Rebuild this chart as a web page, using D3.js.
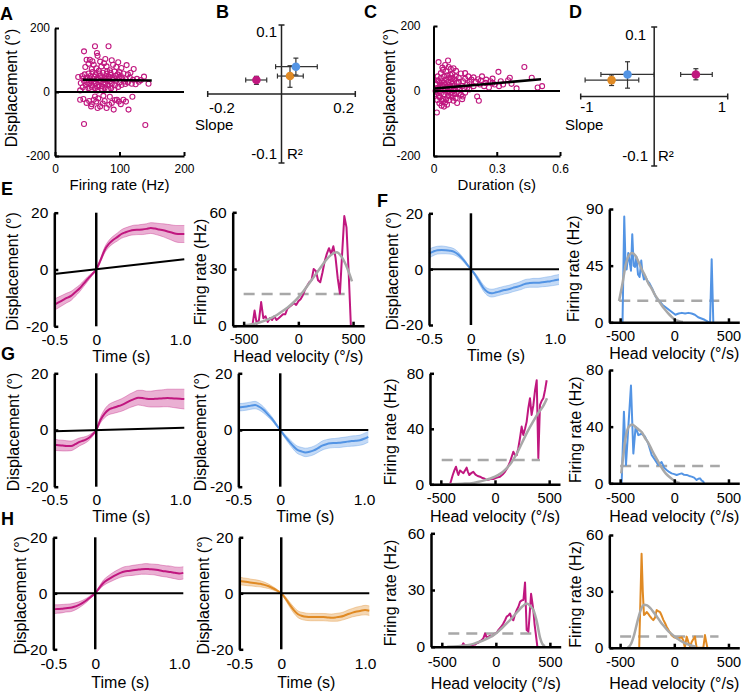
<!DOCTYPE html>
<html><head><meta charset="utf-8">
<script src="https://cdn.jsdelivr.net/npm/d3@7"></script>
<style>body{margin:0;background:#fff}svg{display:block}</style>
</head><body><svg id="c" width="746" height="695"></svg>
<script>
// ---------------- DATA ----------------
const MAG="#C0177F", BLUE="#5394E4", ORANGE="#E08A24", GREY="#A8A8A8";

// Panel A: [firing rate (Hz), displacement (deg)]
const scatterA=[[45,127],[62,143],[83,143],[65,122],[66,113],[49,101],[54,101],[58,96],[70,95],[76,90],[88,99],[98,93],[111,84],[122,72],[78,103],[90,85],[95,78],[103,75],[80,80],[72,80],[60,85],[52,88],[47,78],[57,72],[64,74],[68,66],[85,68],[92,64],[100,62],[106,58],[113,55],[117,60],[74,60],[80,57],[86,54],[58,62],[52,58],[46,55],[42,50],[36,47],[44,42],[50,45],[55,50],[61,48],[66,44],[71,50],[77,46],[83,48],[89,45],[94,50],[99,46],[104,42],[110,40],[116,45],[121,38],[127,41],[133,37],[138,48],[145,26],[119,26],[109,25],[100,30],[95,35],[90,38],[85,33],[80,36],[75,30],[70,34],[65,38],[60,32],[55,35],[50,30],[45,34],[40,28],[48,22],[53,25],[58,20],[63,26],[68,22],[73,18],[78,24],[83,20],[88,26],[93,21],[98,16],[103,22],[108,33],[113,30],[57,15],[62,12],[67,16],[72,10],[77,13],[82,9],[87,12],[92,8],[66,5],[39,5],[47,8],[52,12],[43,15],[86,60],[81,65],[69,58],[63,55],[97,55],[102,50],[59,40],[54,42],[74,40],[79,41],[84,42],[39,-24],[44,-22],[49,-34],[53,-28],[57,-38],[60,-24],[64,-30],[67,-20],[70,-45],[74,-36],[77,-28],[80,-50],[84,-40],[88,-34],[91,-55],[93,-25],[96,-24],[99,-30],[102,-38],[106,-24],[110,-30],[114,-55],[85,-15],[75,-12],[62,-14],[45,-100],[140,-103],[120,-15],[130,32],[125,24],[56,-45],[66,-50]];
const fitA=[43,38.5,150,36];
// Panel C: [duration (s), displacement (deg)]
const scatterC=[[0.024,89],[0.069,94],[0.072,74],[0.06,60],[0.045,65],[0.035,55],[0.02,45],[0.05,45],[0.08,50],[0.09,40],[0.107,62],[0.13,54],[0.12,40],[0.1,35],[0.085,30],[0.07,28],[0.06,35],[0.04,30],[0.03,25],[0.015,20],[0.02,10],[0.03,5],[0.045,15],[0.055,20],[0.065,12],[0.075,18],[0.09,22],[0.1,15],[0.11,25],[0.12,28],[0.14,30],[0.15,38],[0.16,20],[0.171,28],[0.18,35],[0.2,28],[0.212,36],[0.225,32],[0.247,25],[0.263,11],[0.27,30],[0.29,20],[0.308,59],[0.311,15],[0.319,30],[0.354,33],[0.362,41],[0.394,8],[0.431,74],[0.466,41],[0.494,11],[0.515,15],[0.016,-66],[0.064,-42],[0.112,-37],[0.136,-25],[0.139,-17],[0.215,-30],[0.207,-17],[0.03,-20],[0.04,-30],[0.05,-10],[0.06,-25],[0.07,-15],[0.08,-5],[0.09,-20],[0.1,-10],[0.02,-5],[0.025,-15],[0.035,-8],[0.045,-25],[0.055,-35],[0.065,-5],[0.075,-28],[0.085,-12],[0.095,-30],[0.105,-22],[0.12,-8],[0.13,-12],[0.15,-5],[0.16,10],[0.17,5],[0.19,15],[0.22,20],[0.24,15],[0.25,35],[0.28,25],[0.33,20],[0.37,22],[0.01,0],[0.015,8],[0.025,30],[0.035,40],[0.045,3],[0.055,8],[0.065,48],[0.075,40],[0.085,8],[0.095,5],[0.105,45],[0.115,10],[0.125,5],[0.135,15],[0.145,8],[0.04,18],[0.05,26],[0.06,2],[0.07,-2],[0.08,12],[0.09,52],[0.1,2],[0.11,-3],[0.03,12],[0.02,33],[0.012,-10],[0.018,-28],[0.028,-38],[0.038,-45],[0.05,-48],[0.042,72],[0.055,80],[0.082,68],[0.095,70],[0.15,55],[0.165,45],[0.19,42],[0.23,45],[0.28,38]];
const fitC=[0.005,8,0.51,36];

// Panels B and D: order magenta, blue, orange
const groupColors=[MAG,BLUE,ORANGE];
const bSlope=[-0.068,0.039,0.023], bSlopeLo=[-0.097,-0.016,-0.011], bSlopeHi=[-0.040,0.097,0.059];
const bR2=[0.0203,0.0396,0.026], bR2Lo=[0.014,0.0275,0.0097], bR2Hi=[0.0256,0.052,0.041];
const dSlope=[0.567,-0.363,-0.58], dSlopeLo=[0.36,-0.725,-0.94], dSlopeHi=[0.79,0,-0.21];
const dR2=[0.0317,0.0317,0.0236], dR2Lo=[0.024,0.012,0.0158], dR2Hi=[0.040,0.050,0.031];

// Displacement time courses
const timePts=[-0.5,-0.45,-0.4,-0.35,-0.3,-0.25,-0.2,-0.15,-0.1,-0.05,0,0.05,0.1,0.15,0.2,0.25,0.3,0.35,0.4,0.45,0.5,0.55,0.6,0.65,0.7,0.75,0.8,0.85,0.9,0.95,1.0,1.05];
const timeTicks=[-0.5,0,1.0], timeTickLabels=["-0.5","0","1.0"];
const dispTicks=[-20,0,20];
const eMean=[-12.4,-11.6,-10.8,-10.0,-9.3,-8.0,-6.7,-5.0,-3.3,-1.7,0,3.2,6.8,9.0,10.4,11.4,12.5,13.1,13.6,13.9,14.0,14.1,14.3,14.6,14.4,14.1,13.8,13.4,13.0,12.6,12.5,12.5];
const eSem=[2.0,1.9,1.8,1.7,1.6,1.4,1.2,1.0,0.8,0.5,0.2,0.6,1.0,1.2,1.3,1.4,1.5,1.6,1.6,1.7,1.7,1.8,1.8,1.9,2.0,2.1,2.3,2.5,2.7,2.9,3.0,3.0];
const eFit=[-0.5,-1.6,1.05,3.6];
const fMean=[5.6,6.3,6.8,6.9,6.8,6.6,6.2,5.2,3.7,1.8,0,-2.0,-4.4,-6.8,-8.2,-8.6,-8.3,-7.9,-7.5,-7.2,-6.7,-6.3,-5.8,-5.2,-5.0,-4.9,-4.9,-4.7,-4.5,-4.3,-4.0,-3.7];
const fSem=[1.6,1.5,1.4,1.4,1.3,1.2,1.1,0.9,0.7,0.5,0.2,0.6,0.9,1.1,1.3,1.4,1.4,1.4,1.4,1.4,1.4,1.4,1.5,1.5,1.5,1.6,1.6,1.6,1.7,1.7,1.8,1.8];
const fFit=[-0.5,0,1.05,0];
const g1Mean=[-5.2,-5.4,-5.5,-5.6,-5.6,-5.0,-4.2,-3.7,-3.0,-1.8,0,3.5,5.8,7.2,7.8,8.3,8.8,9.5,10.3,10.9,11.4,11.3,11.0,10.9,11.0,11.1,11.2,11.3,11.2,11.1,11.0,10.9];
const g1Sem=[2.0,1.9,1.9,1.8,1.7,1.6,1.4,1.2,1.0,0.7,0.3,1.0,1.5,1.8,2.0,2.1,2.2,2.3,2.4,2.5,2.6,2.7,2.7,2.8,2.9,3.0,3.0,3.1,3.2,3.3,3.4,3.5];
const g1Fit=[-0.5,-0.4,1.05,0.8];
const g2Mean=[8.0,8.1,8.3,8.6,8.8,8.2,7.1,5.6,4.0,2.0,0,-2.0,-3.8,-5.5,-6.9,-7.5,-7.9,-7.7,-7.2,-6.4,-5.5,-5.0,-4.7,-4.6,-4.5,-4.3,-4.1,-3.9,-3.8,-3.6,-3.1,-2.4];
const g2Sem=[1.3,1.3,1.3,1.3,1.3,1.2,1.1,0.9,0.7,0.5,0.2,0.6,0.9,1.1,1.3,1.4,1.5,1.5,1.5,1.5,1.6,1.6,1.6,1.6,1.7,1.7,1.7,1.8,1.8,1.8,1.9,1.9];
const g2Fit=[-0.5,0,1.05,0];
const h1Mean=[-5.7,-5.6,-5.5,-5.3,-5.2,-4.8,-4.2,-3.4,-2.4,-1.2,0,2.0,3.8,4.9,5.8,6.6,7.3,7.8,8.0,8.2,8.4,8.6,8.7,8.6,8.5,8.3,8.0,7.8,7.6,7.3,7.1,7.3];
const h1Sem=[1.6,1.5,1.5,1.4,1.4,1.3,1.1,0.9,0.7,0.5,0.2,0.6,1.0,1.2,1.4,1.5,1.6,1.7,1.7,1.8,1.8,1.8,1.9,1.9,1.9,2.0,2.0,2.0,2.1,2.1,2.2,2.2];
const h1Fit=[-0.5,0,1.05,0];
const h2Mean=[4.4,4.2,4.0,3.8,3.6,3.4,3.0,2.5,1.8,1.0,0,-1.8,-4.0,-6.0,-7.5,-8.1,-8.4,-8.5,-8.5,-8.5,-8.5,-8.6,-8.7,-8.6,-8.4,-8.0,-7.4,-6.9,-6.5,-6.2,-6.0,-6.2];
const h2Sem=[1.4,1.3,1.3,1.2,1.2,1.1,1.0,0.8,0.6,0.4,0.2,0.6,0.9,1.1,1.2,1.3,1.3,1.3,1.3,1.3,1.3,1.3,1.3,1.4,1.4,1.4,1.5,1.5,1.6,1.6,1.7,1.7];
const h2Fit=[-0.5,0,1.05,0];

// Firing-rate tuning curves (head velocity deg/s -> Hz)
const velTicks=[-500,0,500], velTickLabels=["-500","0","500"];
const eVel=[-420,-400,-380,-360,-340,-320,-300,-280,-260,-240,-220,-200,-180,-160,-140,-120,-100,-80,-60,-40,-20,0,20,40,60,80,100,120,140,160,180,200,220,240,260,280,300,320,340,360,380,400,420,440,460,480];
const eFR=[0,8,1,3,12.5,4,5,2,4,3,5,3,4,5,6,6,9,10,11,12,11,13,14,16,19,21,23,24,30,29,24,23,28,34,38,41,38,42,36,25,17,38,58,52,28,0];
const eFitV=[-500,-450,-400,-350,-300,-250,-200,-150,-100,-50,0,50,100,150,200,250,300,350,400,450,490];
const eFitF=[0.3,0.5,1,1.8,2.8,4,5.5,7.5,9.5,12,15,18.5,22.5,26.5,30.5,34.5,37.5,38.8,36,30,23.5];
const eDash=[-500,430,16.8];
const fVel=[-478,-462,-450,-440,-425,-412,-400,-388,-375,-362,-350,-335,-320,-305,-295,-280,-265,-250,-230,-200,-170,-140,-110,-80,-50,-20,10,40,70,100,130,160,190,220,250,280,310,330,345,360];
const fFR=[0,84,45,42,55,48,41,70,45,44,52,38,36,49,40,34,36,33,31,26,20,17,14,12,10,8,6,7,7.5,7,7.5,7,6,4,3,2,0.5,0,50,0];
const fFitV=[-510,-480,-450,-420,-390,-360,-330,-300,-270,-240,-210,-180,-150,-120,-90,-60,-30,0,30,60,80];
const fFitF=[17,30,45,53,55,53,48,42,37,31,27,22,18,14,10.5,7.5,4.8,2.5,1.2,0.5,0.3];
const fDash=[-508,415,17.2];
const g3Vel=[-415,-400,-390,-375,-360,-348,-338,-323,-308,-292,-277,-262,-250,-237,-220,-200,-180,-160,-138,-115,-95,-77,-55,-35,-15,5,25,46,70,92,115,138,155,169,185,200,215,230,246,261,277,292,308,323,338,354,370,385,400,415,430,446,462,477];
const g3FR=[0,4,6.7,10,12.7,9,6.7,10,9,8,10,12,9,6.7,8,9,7,6,5.5,4.5,4,3.1,3.5,4,3.8,4.5,5,5.5,7,9,12,16,20,23.5,21,21,26,33,41.6,35.6,40,45,55,62,50,57,68,75,19,57,60,62,68,75];
const g3FitV=[-490,-400,-300,-200,-150,-100,-50,0,50,100,150,200,250,300,350,400,450,480];
const g3FitF=[0,0.1,0.4,1,1.8,2.8,4,5.5,7.7,11,15.5,22,30,38,45,51.5,57,62];
const g3Dash=[-492,415,17.5];
const g4Vel=[-486,-465,-446,-425,-400,-378,-357,-332,-302,-271,-240,-209,-178,-148,-117,-94,-71,-48,-25,0,22,45,68,91,114,137,160,183,206,222,237,252,268,274];
const g4FR=[0,50.6,13,39,69,21,40,34,35,33,28,20,16.5,13,15,11,9.4,8,7,6.5,5.9,6.5,7,6,5.9,5.2,4.7,4,2.4,3.2,3.5,2,1.2,0];
const g4FitV=[-490,-470,-450,-420,-390,-360,-330,-300,-270,-240,-210,-180,-150,-120,-90,-60,-30,0,30,50];
const g4FitF=[7,20,32,40,41.5,40,38,36,32,28.5,24,19.5,15.5,11.5,8,5.5,3.5,1.8,0.6,0.2];
const g4Dash=[-500,420,12.2];
const h3Vel=[-316,-301,-285,-270,-250,-230,-210,-190,-177,-160,-145,-131,-115,-100,-85,-69,-50,-35,-23,-5,10,23,40,55,69,85,100,115,131,146,162,177,193,208,224,240,255,270,285,301,314,326,336,347,358,369,384];
const h3FR=[0,1.8,0.5,0.9,0.5,0.3,1,1.2,1.8,2.2,3,3.5,4.5,7,5,5.3,5.8,5.5,6.2,7,7.5,8.8,10,11,12.3,14,15.9,16.5,17.6,15,14,17,19.4,21,23.8,24.5,24.7,34,8.8,8,18,28,24,19.4,12,7,0];
const h3FitV=[-450,-350,-250,-200,-150,-100,-50,0,50,100,150,200,250,285,320,350,380,410,430,455];
const h3FitF=[0,0.3,0.9,1.6,2.6,3.8,5.2,7,9.5,12.3,15.3,18.5,21.5,22.8,21.5,19,13,4.5,1.5,0.3];
const h3Dash=[-440,393,7];
const h4Vel=[-324,-313,-302,-291,-280,-268,-255,-240,-222,-208,-194,-178,-163,-148,-132,-116,-100,-85,-71,-50,-25,0,22,45,68,83,98,106,114,130,145,160,175,191,198,206,230,255,268,283,295,305];
const h4FR=[0,25,50,30,17.4,18,19,18,16.5,15.5,14.7,16,20,19.5,19,17,14.7,13,11.2,9,6.7,5.5,5,5.2,5.5,4,0,3,5.9,3,0.5,3,4.5,5.9,3,0,0,0,0,6.7,3,0];
const h4FitV=[-430,-400,-370,-340,-310,-280,-250,-220,-190,-160,-130,-100,-70,-40,-10,20,50,80,110,150,200];
const h4FitF=[0,2,7,14,20,22.8,22.5,21,18.8,16.5,14,11.8,9.8,8,6.5,5.2,4,3,2.2,1.3,0.5];
const h4Dash=[-500,408,5.9];

// ---------------- DRAWING ----------------
const FONT="'Liberation Sans', Arial, Helvetica, sans-serif";
const TICKFS=14.5, LABFS=16;
const svg=d3.select("#c").attr("font-family",FONT);

function styleAxis(g,fs,sw){
  g.attr("font-family",FONT).attr("font-size",fs);
  g.select(".domain").attr("stroke","#000").attr("stroke-width",sw||2);
  g.selectAll(".tick line").attr("stroke","#000").attr("stroke-width",sw||2);
  g.selectAll(".tick text").attr("fill","#000");
}
function text(x,y,s,o={}){
  return svg.append("text").attr("x",x).attr("y",y).text(s)
    .attr("font-size",o.size||15).attr("text-anchor",o.anchor||"middle")
    .attr("font-weight",o.weight||"normal").attr("fill","#000");
}
function vtext(x,y,s,size){
  svg.append("text").attr("transform",`translate(${x},${y}) rotate(-90)`)
    .attr("text-anchor","middle").attr("dy","0.35em").attr("font-size",size).text(s);
}

// ---- Scatter panels A, C
function scatterPanel(p){
  const x=d3.scaleLinear().domain(p.xdom).range([p.left,p.right]);
  const y=d3.scaleLinear().domain([-200,200]).range([p.bottom,p.top]);
  const g=svg.append("g");
  g.selectAll("circle").data(p.pts).join("circle")
    .attr("cx",d=>x(d[0])).attr("cy",d=>y(d[1])).attr("r",2.5)
    .attr("fill","none").attr("stroke",MAG).attr("stroke-width",1.1);
  g.append("line").attr("x1",x(p.xdom[0])).attr("x2",x(p.xdom[1])).attr("y1",y(0)).attr("y2",y(0))
    .attr("stroke","#000").attr("stroke-width",2);
  g.append("line").attr("x1",x(p.fit[0])).attr("y1",y(p.fit[1])).attr("x2",x(p.fit[2])).attr("y2",y(p.fit[3]))
    .attr("stroke","#000").attr("stroke-width",2.5);
  const ya=g.append("g").attr("transform",`translate(${p.left},0)`)
    .call(d3.axisLeft(y).tickValues([-200,0,200]).tickSize(-4).tickSizeOuter(0).tickPadding(p.ypad).tickFormat(d=>String(d)));
  styleAxis(ya,12);
  const xa=g.append("g").attr("transform",`translate(0,${p.bottom})`)
    .call(d3.axisBottom(x).tickValues(p.xticks).tickSize(-4).tickSizeOuter(0).tickPadding(8).tickFormat((d,i)=>p.xlabels[i]));
  styleAxis(xa,12);
  vtext(p.ylabX,88,"Displacement (°)",16);
  text((p.left+p.right)/2,190,p.xlabel,{size:15});
}
scatterPanel({left:55,right:184,top:28,bottom:156,xdom:[0,200],pts:scatterA,fit:fitA,xticks:[0,100,200],xlabels:["0","100","200"],ypad:5,ylabX:11,xlabel:"Firing rate (Hz)"});
scatterPanel({left:433.5,right:560,top:26,bottom:156,xdom:[0,0.6],pts:scatterC,fit:fitC,xticks:[0,0.3,0.6],xlabels:["0","0.3","0.6"],ypad:13,ylabX:389,xlabel:"Duration (s)"});

// ---- Cross panels B, D
function crossPanel(p){
  const x=d3.scaleLinear().domain([-p.xmax,p.xmax]).range([p.left,p.right]);
  const y=d3.scaleLinear().domain([-0.1,0.1]).range([p.bottom,p.top]);
  const g=svg.append("g");
  const ax="#222";
  g.append("line").attr("x1",x(-p.xmax)).attr("x2",x(p.xmax)).attr("y1",y(0)).attr("y2",y(0)).attr("stroke",ax).attr("stroke-width",1.5);
  g.append("line").attr("x1",x(0)).attr("x2",x(0)).attr("y1",y(0.1)).attr("y2",y(-0.1)).attr("stroke",ax).attr("stroke-width",1.5);
  [-p.xmax,p.xmax].forEach(v=>g.append("line").attr("x1",x(v)).attr("x2",x(v)).attr("y1",y(0)-3).attr("y2",y(0)+3).attr("stroke",ax).attr("stroke-width",1.5));
  [-0.1,0.1].forEach(v=>g.append("line").attr("x1",x(0)-3).attr("x2",x(0)+3).attr("y1",y(v)).attr("y2",y(v)).attr("stroke",ax).attr("stroke-width",1.5));
  p.order.forEach(i=>{
    const eg=g.append("g").attr("stroke","#333").attr("stroke-width",1.2);
    eg.append("line").attr("x1",x(p.lo[i])).attr("x2",x(p.hi[i])).attr("y1",y(p.r2[i])).attr("y2",y(p.r2[i]));
    [p.lo[i],p.hi[i]].forEach(v=>eg.append("line").attr("x1",x(v)).attr("x2",x(v)).attr("y1",y(p.r2[i])-2.5).attr("y2",y(p.r2[i])+2.5));
    eg.append("line").attr("x1",x(p.slope[i])).attr("x2",x(p.slope[i])).attr("y1",y(p.r2lo[i])).attr("y2",y(p.r2hi[i]));
    [p.r2lo[i],p.r2hi[i]].forEach(v=>eg.append("line").attr("y1",y(v)).attr("y2",y(v)).attr("x1",x(p.slope[i])-2.5).attr("x2",x(p.slope[i])+2.5));
    g.append("circle").attr("cx",x(p.slope[i])).attr("cy",y(p.r2[i])).attr("r",4.3).attr("fill",groupColors[i]);
  });
  p.labels.forEach(l=>text(l[0],l[1],l[2],{anchor:l[3],size:15}));
}
crossPanel({left:207.7,right:355.3,top:25,bottom:163,xmax:0.2,slope:bSlope,lo:bSlopeLo,hi:bSlopeHi,r2:bR2,r2lo:bR2Lo,r2hi:bR2Hi,order:[0,2,1],
  labels:[[277,37,"0.1","end"],[277,159,"-0.1","end"],[287,159,"R²","start"],[222,113,"-0.2","middle"],[354,113,"0.2","end"],[195,130,"Slope","start"]]});
crossPanel({left:580.7,right:727.7,top:27,bottom:166,xmax:1,slope:dSlope,lo:dSlopeLo,hi:dSlopeHi,r2:dR2,r2lo:dR2Lo,r2hi:dR2Hi,order:[0,2,1],
  labels:[[646,40,"0.1","end"],[648,161,"-0.1","end"],[658,161,"R²","start"],[587,112,"-1","middle"],[722,112,"1","middle"],[565,130,"Slope","start"]]});

// ---- Time-course panels
function timePanel(p){
  const x=d3.scaleLinear().domain([timePts[0],timePts[timePts.length-1]]).range([p.left,p.left+130]);
  const y=d3.scaleLinear().domain([-20,20]).range([p.bottom,p.top]);
  const data=timePts.map((t,i)=>({t,m:p.mean[i],s:p.sem[i]}));
  const g=svg.append("g");
  const cv=d3.curveMonotoneX;
  g.append("path").datum(data).attr("d",d3.area().x(d=>x(d.t)).y0(d=>y(d.m-d.s)).y1(d=>y(d.m+d.s)).curve(cv))
    .attr("fill",p.color).attr("fill-opacity",0.34);
  [-1,1].forEach(sg=>g.append("path").datum(data).attr("d",d3.line().x(d=>x(d.t)).y(d=>y(d.m+sg*d.s)).curve(cv))
    .attr("fill","none").attr("stroke",p.color).attr("stroke-opacity",0.35).attr("stroke-width",1));
  g.append("path").datum(data).attr("d",d3.line().x(d=>x(d.t)).y(d=>y(d.m)).curve(cv))
    .attr("fill","none").attr("stroke",p.color).attr("stroke-width",2);
  g.append("line").attr("x1",x(p.fit[0])).attr("y1",y(p.fit[1])).attr("x2",x(p.fit[2])).attr("y2",y(p.fit[3]))
    .attr("stroke","#000").attr("stroke-width",2);
  g.append("line").attr("x1",x(0)).attr("x2",x(0)).attr("y1",y(20)).attr("y2",y(-20)).attr("stroke","#000").attr("stroke-width",2.5);
  const ya=g.append("g").attr("transform",`translate(${p.left},0)`)
    .call(d3.axisLeft(y).tickValues(dispTicks).tickSize(-4).tickSizeOuter(0).tickPadding(6).tickFormat(d=>String(d)));
  styleAxis(ya,TICKFS+1,2.5);
  const xa=g.append("g").attr("transform",`translate(0,${p.bottom})`)
    .call(d3.axisBottom(x).tickValues(timeTicks).tickSize(0).tickPadding(p.xpad).tickFormat((d,i)=>timeTickLabels[i]));
  xa.select(".domain").remove();
  styleAxis(xa,TICKFS+1);
  vtext(p.ylabX,(p.top+p.bottom)/2+2,"Displacement (°)",LABFS);
  text(x(0.3),p.xlabY,"Time (s)",{size:LABFS});
}
timePanel({left:54.3,top:212.7,bottom:326.3,mean:eMean,sem:eSem,fit:eFit,color:MAG,ylabX:12,xpad:7.5,xlabY:362});
timePanel({left:429,top:213.3,bottom:325,mean:fMean,sem:fSem,fit:fFit,color:BLUE,ylabX:392,xpad:7.5,xlabY:361});
timePanel({left:54.3,top:373.3,bottom:486.7,mean:g1Mean,sem:g1Sem,fit:g1Fit,color:MAG,ylabX:13,xpad:7,xlabY:522});
timePanel({left:238.3,top:373.3,bottom:486.7,mean:g2Mean,sem:g2Sem,fit:g2Fit,color:BLUE,ylabX:200,xpad:7,xlabY:522});
timePanel({left:53.3,top:537.3,bottom:649.3,mean:h1Mean,sem:h1Sem,fit:h1Fit,color:MAG,ylabX:20,xpad:8.5,xlabY:688});
timePanel({left:239.3,top:537.3,bottom:649.3,mean:h2Mean,sem:h2Sem,fit:h2Fit,color:ORANGE,ylabX:203,xpad:8.5,xlabY:688});

// ---- Tuning panels
function tuningPanel(p){
  const x=d3.scaleLinear().domain([-600,600]).range([p.left,p.right]);
  const y=d3.scaleLinear().domain([0,p.ymax]).range([p.bottom,p.top]);
  const g=svg.append("g");
  g.append("line").attr("x1",x(p.dash[0])).attr("x2",x(p.dash[1])).attr("y1",y(p.dash[2])).attr("y2",y(p.dash[2]))
    .attr("stroke",GREY).attr("stroke-width",2.5).attr("stroke-dasharray","11,7");
  const fr=p.vel.map((v,i)=>[v,p.fr[i]]);
  g.append("path").datum(fr).attr("d",d3.line().x(d=>x(d[0])).y(d=>y(d[1])))
    .attr("fill","none").attr("stroke",p.color).attr("stroke-width",2).attr("stroke-linejoin","round");
  const ft=p.fitV.map((v,i)=>[v,p.fitF[i]]);
  g.append("path").datum(ft).attr("d",d3.line().x(d=>x(d[0])).y(d=>y(d[1])).curve(d3.curveMonotoneX))
    .attr("fill","none").attr("stroke",GREY).attr("stroke-width",2.5);
  const ya=g.append("g").attr("transform",`translate(${p.left},0)`)
    .call(d3.axisLeft(y).tickValues(p.yticks).tickSize(-4).tickSizeOuter(0).tickPadding(6).tickFormat(d=>String(d)));
  styleAxis(ya,TICKFS+1,2.5);
  const xa=g.append("g").attr("transform",`translate(0,${p.bottom})`)
    .call(d3.axisBottom(x).tickValues(velTicks).tickSize(-4).tickSizeOuter(0).tickPadding(p.xpad).tickFormat((d,i)=>velTickLabels[i]));
  styleAxis(xa,TICKFS,2.5);
  vtext(p.ylabX,(p.top+p.bottom)/2+3,"Firing rate (Hz)",LABFS);
  text((p.left+p.right)/2,p.xlabY,"Head velocity (°/s)",{size:LABFS});
}
tuningPanel({left:232.7,right:364,top:212.3,bottom:325.7,ymax:60,yticks:[0,30,60],vel:eVel,fr:eFR,fitV:eFitV,fitF:eFitF,dash:eDash,color:MAG,ylabX:200,xpad:8,xlabY:362});
tuningPanel({left:609.3,right:739.3,top:209,bottom:322.3,ymax:90,yticks:[0,45,90],vel:fVel,fr:fFR,fitV:fFitV,fitF:fFitF,dash:fDash,color:BLUE,ylabX:573,xpad:8.5,xlabY:359});
tuningPanel({left:430,right:560,top:373.3,bottom:484.3,ymax:80,yticks:[0,40,80],vel:g3Vel,fr:g3FR,fitV:g3FitV,fitF:g3FitF,dash:g3Dash,color:MAG,ylabX:390,xpad:8.5,xlabY:522});
tuningPanel({left:609.3,right:739.3,top:370,bottom:483.3,ymax:80,yticks:[0,40,80],vel:g4Vel,fr:g4FR,fitV:g4FitV,fitF:g4FitF,dash:g4Dash,color:BLUE,ylabX:575,xpad:9.5,xlabY:522});
tuningPanel({left:431,right:560.7,top:533.3,bottom:646.7,ymax:60,yticks:[0,30,60],vel:h3Vel,fr:h3FR,fitV:h3FitV,fitF:h3FitF,dash:h3Dash,color:MAG,ylabX:390,xpad:10,xlabY:689});
tuningPanel({left:609.3,right:739.3,top:535,bottom:647.7,ymax:60,yticks:[0,30,60],vel:h4Vel,fr:h4FR,fitV:h4FitV,fitF:h4FitF,dash:h4Dash,color:ORANGE,ylabX:575,xpad:9,xlabY:689});

// ---- Panel letters
[["A",0,20],["B",216,18],["C",364,18],["D",569,18],["E",1,195],["F",377,207],["G",1,360],["H",1,525]]
  .forEach(l=>text(l[1],l[2],l[0],{anchor:"start",size:18,weight:"bold"}));
</script></body></html>
